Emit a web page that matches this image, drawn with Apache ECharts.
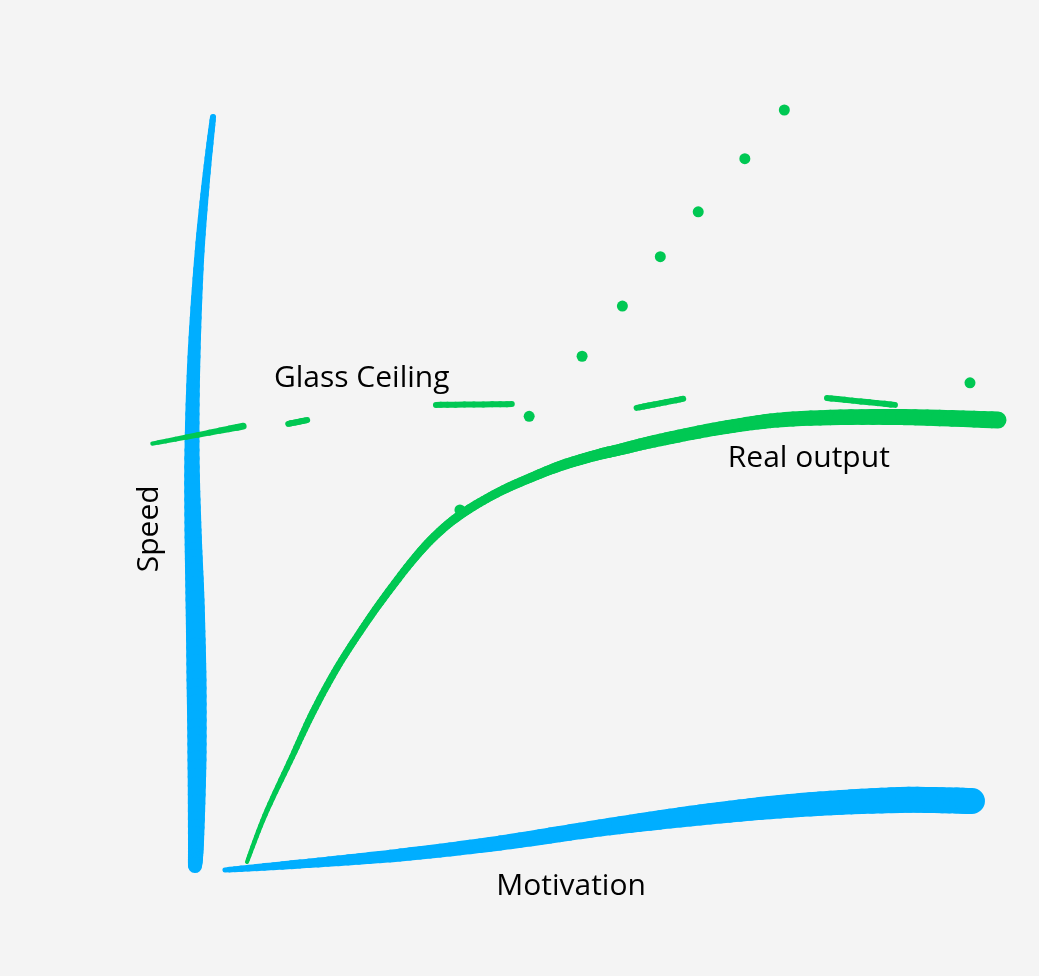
<!DOCTYPE html>
<html>
<head>
<meta charset="utf-8">
<script src="https://cdn.jsdelivr.net/npm/echarts@6/dist/echarts.min.js"></script>
<style>
html,body{margin:0;padding:0;background:#f4f4f4;}
#chart{width:1039px;height:976px;}
</style>
</head>
<body>
<div id="chart"></div>
<script>
// ---- DATA (Motivation on x, Speed on y, both 0..100) ----
const speedAxisStroke = [[2.28,99.08],[1.39,90.79],[0.51,80.26],[-0.13,67.50],[-0.38,55.26],[-0.25,44.74],[0.0,35.53],[0.19,25.0],[0.25,14.47],[0.13,3.95],[0.0,0.53]];
const motivationAxisStroke = [[3.80,0.0],[13.29,0.79],[25.95,1.97],[38.61,3.55],[51.27,5.53],[63.92,7.24],[76.58,8.55],[89.24,9.21],[98.35,9.08]];
const realOutput = [[6.58,1.05],[8.86,7.24],[12.28,14.87],[14.94,20.79],[17.97,26.58],[20.89,31.32],[23.80,35.66],[27.59,40.79],[30.63,44.21],[33.92,46.97],[38.23,49.61],[42.41,51.58],[46.58,53.29],[50.89,54.61],[53.54,55.26],[58.86,56.58],[67.34,58.29],[75.70,59.34],[88.35,59.61],[101.65,59.21]];
const potentialDots = [[33.54,47.37],[42.3,59.7],[49.0,67.6],[54.1,74.2],[58.9,80.7],[63.7,86.6],[69.6,93.6],[74.6,100.0]];
const glassCeilingDashes = [
  [[-5.4,56.1],[6.1,58.4]],
  [[11.8,58.7],[14.2,59.2]],
  [[30.5,61.2],[40.1,61.3]],
  [[55.9,60.8],[61.8,62.0]],
  [[80.0,62.1],[88.6,61.2]]
];
const glassCeilingDots = [[98.1,64.1]];
const labelNames = ['Glass Ceiling','Real output','Motivation','Speed'];
const labelPositions = [[21.1,64.7],[77.7,54.1],[47.6,-2.1],[-5.8,44.9]];

// ---- STYLE ----
const BLUE = '#00aeff', GREEN = '#00c853';
const penWidths = {
  speedAxis: [6,8,10,13,15,17,19,20,19,16,14],
  motivationAxis: [5,9,13,15,17,21,24,26,26],
  realOutput: [4,5,6,7,7,7,7.5,8,8.5,9,9,9.5,10.5,11,11.5,12.5,13.5,15,16,17],
  ceiling: [[4,7],[6,6],[6,6],[6,6],[6,6]]
};

function catmull(p0,p1,p2,p3,t){
  const t2=t*t,t3=t2*t;
  return [0,1].map(k=>0.5*(2*p1[k]+(-p0[k]+p2[k])*t+(2*p0[k]-5*p1[k]+4*p2[k]-p3[k])*t2+(-p0[k]+3*p1[k]-3*p2[k]+p3[k])*t3));
}
function strokeSeries(points, widths, color){
  return {
    type:'custom', coordinateSystem:'cartesian2d', clip:false, silent:true,
    data: points,
    renderItem: function(params, api){
      if (params.dataIndex !== 0) return null;
      const px = points.map(p=>api.coord(p));
      const children=[];
      const steps=10;
      let prev=null, prevW=null;
      for(let i=0;i<px.length-1;i++){
        const p0=px[i-1]||px[i], p1=px[i], p2=px[i+1], p3=px[i+2]||px[i+1];
        for(let s=(i===0?0:1);s<=steps;s++){
          const t=s/steps;
          const pt=catmull(p0,p1,p2,p3,t);
          const w=widths[i]+(widths[i+1]-widths[i])*t;
          if(prev){
            children.push({type:'line',shape:{x1:prev[0],y1:prev[1],x2:pt[0],y2:pt[1]},
              style:{stroke:color,lineWidth:(w+prevW)/2,lineCap:'round'}});
          }
          prev=pt; prevW=w;
        }
      }
      return {type:'group',children:children};
    }
  };
}

const series = [];
series.push(strokeSeries(speedAxisStroke, penWidths.speedAxis, BLUE));
series.push(strokeSeries(motivationAxisStroke, penWidths.motivationAxis, BLUE));
glassCeilingDashes.forEach((d,i)=>series.push(strokeSeries(d, penWidths.ceiling[i], GREEN)));
series.push(strokeSeries(realOutput, penWidths.realOutput, GREEN));
series.push({type:'scatter', data: potentialDots, symbolSize:11, itemStyle:{color:GREEN, opacity:1}, silent:true, clip:false});
series.push({type:'scatter', data: glassCeilingDots, symbolSize:11, itemStyle:{color:GREEN, opacity:1}, silent:true, clip:false});
series.push({
  type:'scatter', symbolSize:0, silent:true, clip:false,
  itemStyle:{opacity:1},
  data: labelNames.map((n,i)=>({name:n, value:labelPositions[i], label:{rotate: n==='Speed'?90:0}})),
  label:{show:true, position:'inside', formatter:'{b}', color:'#000', opacity:1, fontSize:30, fontFamily:'Open Sans'}
});

const chart = echarts.init(document.getElementById('chart'), null, {renderer:'canvas'});
chart.setOption({
  backgroundColor:'#f4f4f4',
  animation:false,
  grid:{left:195, right:54, top:110, bottom:106},
  xAxis:{type:'value', min:0, max:100, show:false},
  yAxis:{type:'value', min:0, max:100, show:false},
  series: series
});
</script>
</body>
</html>
